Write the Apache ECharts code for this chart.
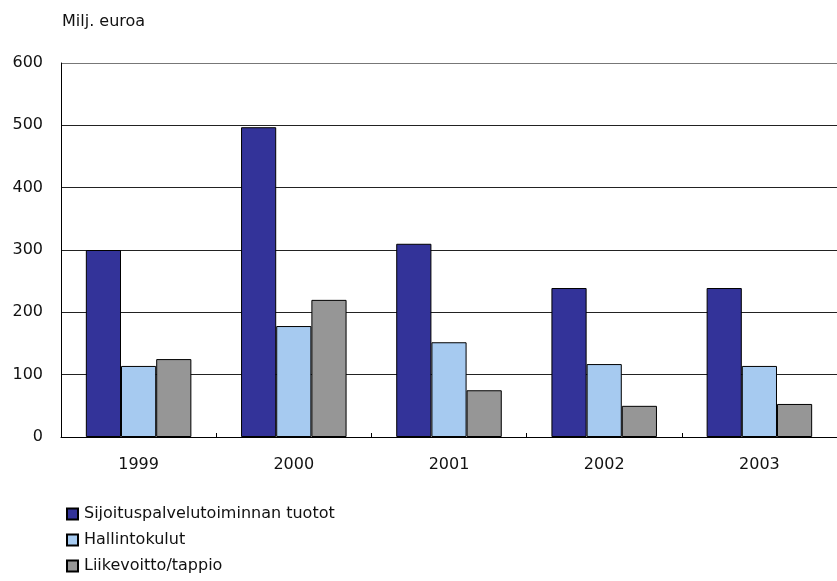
<!DOCTYPE html>
<html><head><meta charset="utf-8">
<script src="https://cdn.jsdelivr.net/npm/echarts@6/dist/echarts.min.js"></script>
<style>html,body{margin:0;padding:0;background:#fff}#c{width:837px;height:581px}</style>
</head><body><div id="c"></div>
<script>
var categories = ['1999', '2000', '2001', '2002', '2003'];
var seriesNames = ['Sijoituspalvelutoiminnan tuotot', 'Hallintokulut', 'Liikevoitto/tappio'];
var tuotot = [300, 497, 310, 239, 239];
var hallintokulut = [114, 178, 152, 117, 114];
var liikevoitto = [125, 220, 75, 50, 53];
var yTicks = [0, 100, 200, 300, 400, 500, 600];
var colors = ['#333399', '#A6CAF0', '#969696'];
var FONT = 'DejaVu Sans';

var chart = echarts.init(document.getElementById('c'), null, {renderer: 'canvas'});
var dataSets = [tuotot, hallintokulut, liikevoitto];
chart.setOption({
  animation: false,
  backgroundColor: '#fff',
  textStyle: {fontFamily: FONT},
  title: {text: 'Milj. euroa', left: 62, top: 13, padding: 0, textStyle: {fontFamily: FONT, fontSize: 16, lineHeight: 18, fontWeight: 'normal', color: '#111'}},
  grid: {left: 61, top: 63, width: 783, height: 374, containLabel: false},
  legend: {
    orient: 'vertical', left: 66, top: 506, padding: 0, itemWidth: 11, itemHeight: 11, itemGap: 10,
    icon: 'rect', data: seriesNames,
    textStyle: {fontFamily: FONT, fontSize: 16, lineHeight: 16, color: '#111', padding: [0,0,0,1]}
  },
  xAxis: {
    type: 'category', data: categories,
    axisLine: {lineStyle: {color: '#000', width: 1}},
    axisTick: {show: true, inside: true, length: 4, lineStyle: {color: '#000'}},
    axisLabel: {fontFamily: FONT, fontSize: 16, color: '#111', margin: 20}
  },
  yAxis: {
    type: 'value', min: yTicks[0], max: yTicks[yTicks.length-1], interval: 100,
    axisLine: {show: true, lineStyle: {color: '#000', width: 1}},
    axisTick: {show: false},
    splitLine: {show: true, lineStyle: {color: ['#222','#222','#222','#222','#222','#222','#777'], width: 1}},
    axisLabel: {fontFamily: FONT, fontSize: 16, color: '#111', margin: 18}
  },
  series: seriesNames.map(function(n, i){
    return {
      name: n, type: 'bar', data: dataSets[i], barGap: '0%', barCategoryGap: '32%',
      itemStyle: {color: colors[i], borderColor: '#000', borderWidth: 1}
    };
  })
});
</script></body></html>
